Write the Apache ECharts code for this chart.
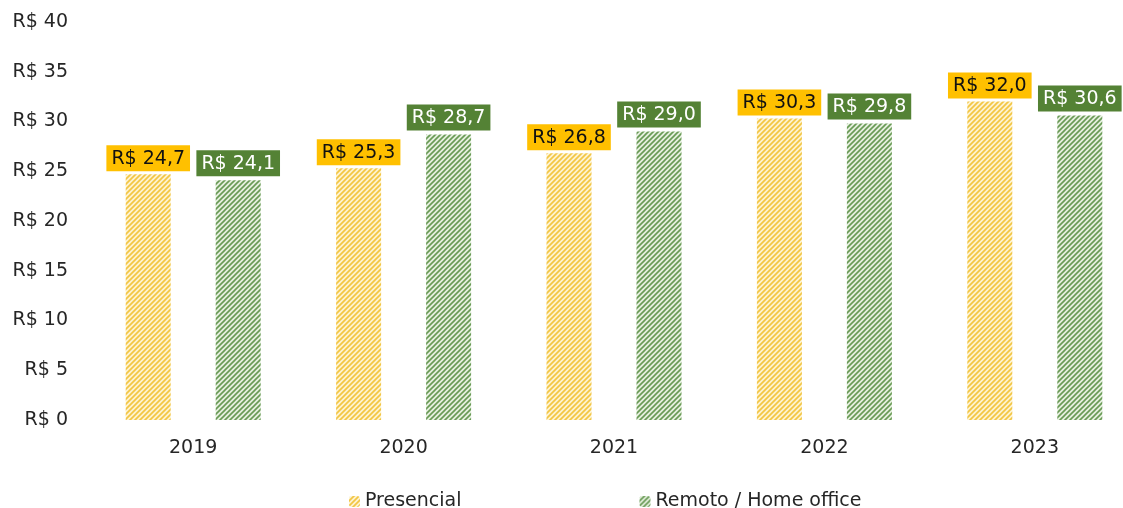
<!DOCTYPE html>
<html>
<head>
<meta charset="utf-8">
<script src="https://cdn.jsdelivr.net/npm/echarts@6/dist/echarts.min.js"></script>
<style>
html,body{margin:0;padding:0;background:#fff;}
#main{width:1123px;height:508px;}
</style>
</head>
<body>
<div id="main"></div>
<script>
var years = ['2019', '2020', '2021', '2022', '2023'];
var presencial = [24.7, 25.3, 26.8, 30.3, 32.0];
var remoto = [24.1, 28.7, 29.0, 29.8, 30.6];
var seriesNames = ['Presencial', 'Remoto / Home office'];

// hachura diagonal (linhas x+y = 0, s, 2s)
function hatch(color, bg, lw) {
    var s = 5;
    var c = document.createElement('canvas');
    c.width = s; c.height = s;
    var ctx = c.getContext('2d');
    ctx.fillStyle = bg;
    ctx.fillRect(0, 0, s, s);
    ctx.strokeStyle = color;
    ctx.lineWidth = lw;
    ctx.beginPath();
    ctx.moveTo(-2, 2); ctx.lineTo(2, -2);
    ctx.moveTo(-2, s + 2); ctx.lineTo(s + 2, -2);
    ctx.moveTo(s - 2, s + 2); ctx.lineTo(s + 2, s - 2);
    ctx.stroke();
    return {image: c, repeat: 'repeat'};
}

function fmt(v) {
    return 'R$ ' + v.toFixed(1).replace('.', ',');
}

var myChart = echarts.init(document.getElementById('main'));
var option = {
    animation: false,
    textStyle: {fontFamily: 'DejaVu Sans'},
    grid: {
        left: 88,
        top: 22,
        width: 1052,
        height: 398,
        outerBoundsMode: 'none'
    },
    legend: {
        data: seriesNames,
        top: 487,
        left: 344,
        itemWidth: 11,
        itemHeight: 11,
        itemGap: 178,
        textStyle: {color: '#262626', fontSize: 19, fontFamily: 'DejaVu Sans'}
    },
    xAxis: {
        type: 'category',
        data: years,
        axisLine: {show: false},
        axisTick: {show: false},
        axisLabel: {color: '#262626', fontSize: 19, margin: 19}
    },
    yAxis: {
        type: 'value',
        min: 0,
        max: 40,
        interval: 5,
        splitLine: {show: false},
        axisLine: {show: false},
        axisLabel: {
            color: '#262626',
            fontSize: 19,
            margin: 20,
            formatter: function (v) { return 'R$ ' + v; }
        }
    },
    series: [
        {
            name: seriesNames[0],
            type: 'bar',
            data: presencial,
            barWidth: 45,
            barGap: '100%',
            itemStyle: {color: hatch('#f2c644', '#fdf3d2', 1.7)},
            label: {
                show: true,
                position: 'top',
                distance: 3,
                formatter: function (p) { return fmt(p.value); },
                color: '#111',
                fontSize: 19,
                backgroundColor: '#ffc000',
                padding: [4, 5, 3, 5]
            }
        },
        {
            name: seriesNames[1],
            type: 'bar',
            data: remoto,
            barWidth: 45,
            itemStyle: {color: hatch('#689a54', '#e5efde', 1.6)},
            label: {
                show: true,
                position: 'top',
                distance: 4,
                formatter: function (p) { return fmt(p.value); },
                color: '#fff',
                fontSize: 19,
                backgroundColor: '#548235',
                padding: [4, 5, 3, 5]
            }
        }
    ]
};
myChart.setOption(option);
window.addEventListener('resize', function () {
    myChart.resize();
});
</script>
</body>
</html>
